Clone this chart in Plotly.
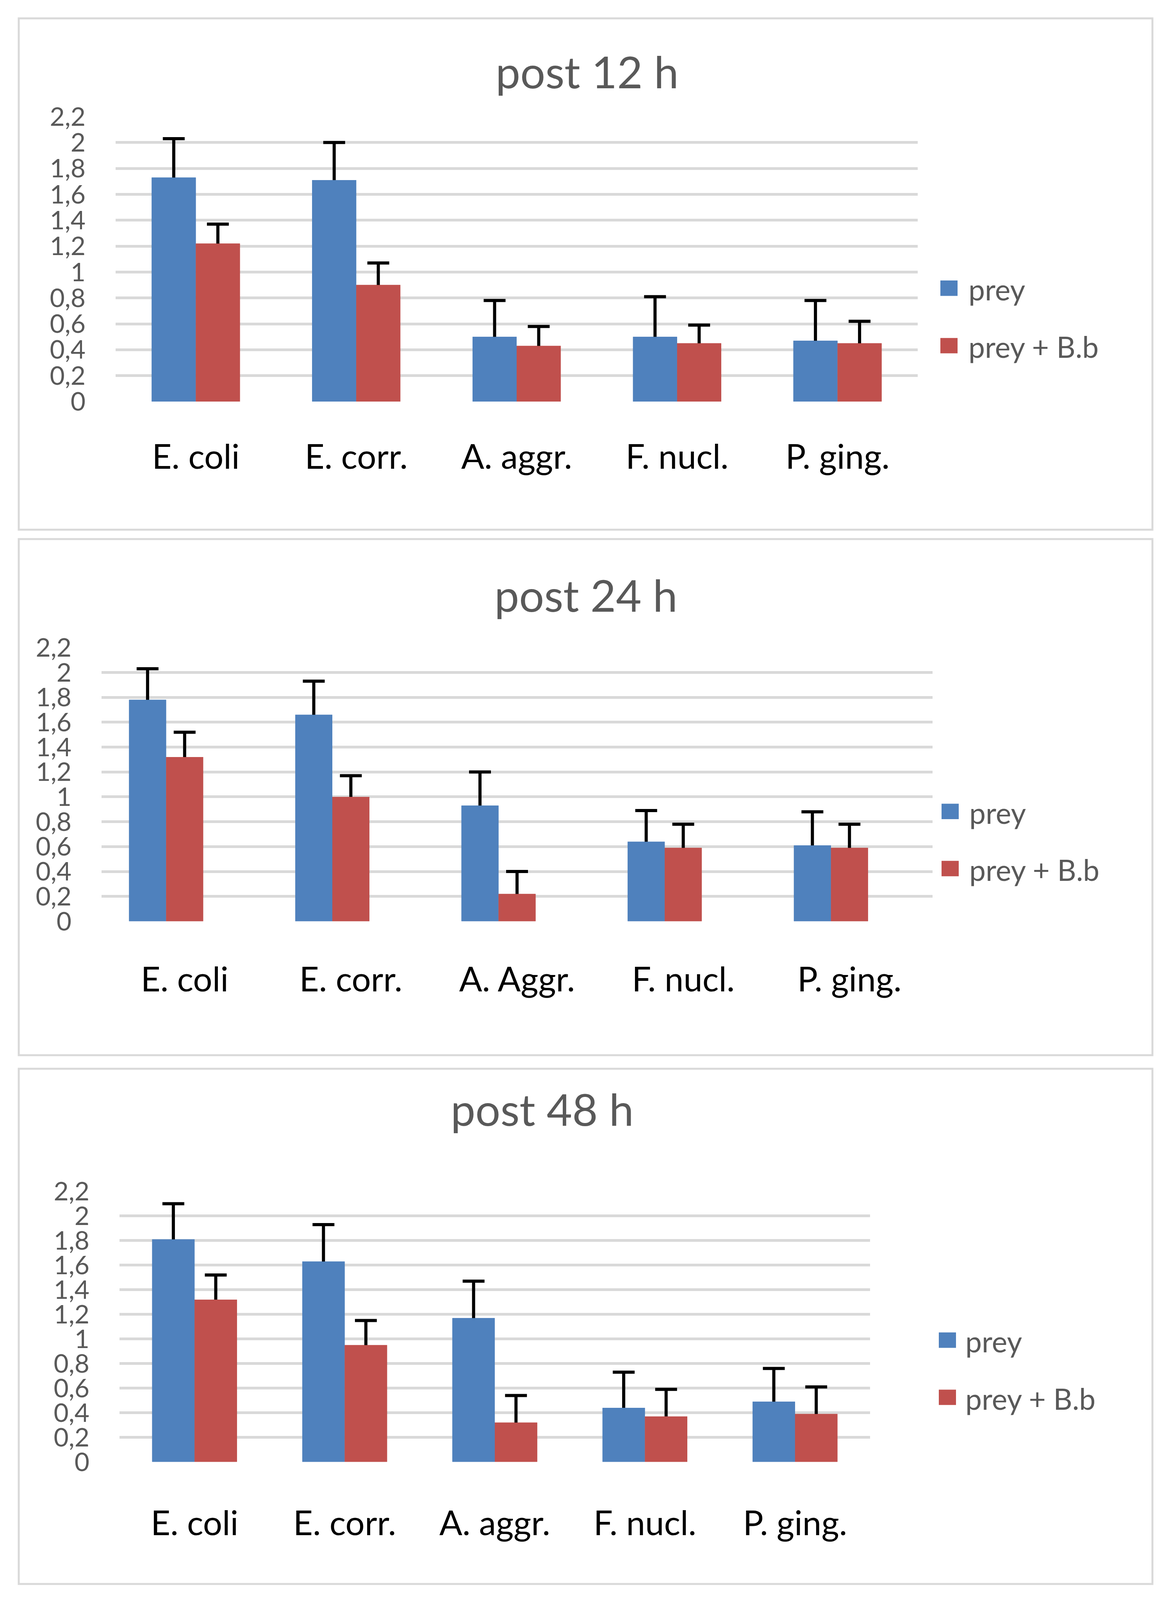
import plotly.graph_objects as go

# ---- data ----
categories_12 = ["E. coli", "E. corr.", "A. aggr.", "F. nucl.", "P. ging."]
categories_24 = ["E. coli", "E. corr.", "A. Aggr.", "F. nucl.", "P. ging."]
categories_48 = ["E. coli", "E. corr.", "A. aggr.", "F. nucl.", "P. ging."]

prey_12 = [1.73, 1.71, 0.50, 0.50, 0.47]
prey_12_err = [0.30, 0.29, 0.28, 0.31, 0.31]
preybb_12 = [1.22, 0.90, 0.43, 0.45, 0.45]
preybb_12_err = [0.15, 0.17, 0.15, 0.14, 0.17]

prey_24 = [1.78, 1.66, 0.93, 0.64, 0.61]
prey_24_err = [0.25, 0.27, 0.27, 0.25, 0.27]
preybb_24 = [1.32, 1.00, 0.22, 0.59, 0.59]
preybb_24_err = [0.20, 0.17, 0.18, 0.19, 0.19]

prey_48 = [1.81, 1.63, 1.17, 0.44, 0.49]
prey_48_err = [0.29, 0.30, 0.30, 0.29, 0.27]
preybb_48 = [1.32, 0.95, 0.32, 0.37, 0.39]
preybb_48_err = [0.20, 0.20, 0.22, 0.22, 0.22]

series_names = ["prey", "prey + B.b"]
titles = ["post 12 h", "post 24 h", "post 48 h"]

BLUE = "#4F81BD"
RED = "#C0504D"
GRID = "#D9D9D9"
GREY = "#595959"
FONT = "Lato, Carlito, Calibri, sans-serif"


# positions below are pixels measured on the 2996x5000 original;
# the shot of the page has a thin white band top and bottom, so y is remapped a bit
def fx(x):
    return x / 2996


def fy(y):
    return 1 - (y - 56) / 4885


panels = [
    dict(cats=categories_12, vals=[prey_12, preybb_12], errs=[prey_12_err, preybb_12_err],
         box=(48, 62, 2951, 1654), px=(296, 2350), py=(368, 1255),
         title=(1503, 226), bar_w=0.275, slots=2, x_standoff=84,
         leg_x=2408, leg_y=(902, 1081), leg_tx=2478),
    dict(cats=categories_24, vals=[prey_24, preybb_24], errs=[prey_24_err, preybb_24_err],
         box=(48, 1683, 2951, 3290), px=(260, 2388), py=(2021, 2873),
         title=(1500, 1856), bar_w=0.223, slots=3, x_standoff=92,
         leg_x=2411, leg_y=(2531, 2709), leg_tx=2480),
    dict(cats=categories_48, vals=[prey_48, preybb_48], errs=[prey_48_err, preybb_48_err],
         box=(48, 3332, 2951, 4936), px=(306, 2228), py=(3714, 4556),
         title=(1388, 3456), bar_w=0.2825, slots=2, x_standoff=100,
         leg_x=2404, leg_y=(4177, 4355), leg_tx=2470),
]

colors = [BLUE, RED]
fig = go.Figure()
shapes = []
annotations = []

for i, p in enumerate(panels):
    n = "" if i == 0 else str(i + 1)
    xa, ya = "x" + n, "y" + n
    w = p["bar_w"]
    start = -p["slots"] * w / 2
    # bars with error bars, then the same bars again on top so only the upper whisker shows
    for cover in (False, True):
        for k in range(2):
            fig.add_trace(go.Bar(
                x=p["cats"], y=p["vals"][k], name=series_names[k],
                xaxis=xa, yaxis=ya, width=w, offset=start + k * w,
                marker=dict(color=colors[k], line=dict(width=0)),
                error_y=None if cover else dict(type="data", array=p["errs"][k], symmetric=True,
                                                color="black", thickness=8, width=28),
                showlegend=False, hoverinfo="skip" if cover else None,
            ))

    fig.update_layout(**{
        "xaxis" + n: dict(domain=[fx(p["px"][0]), fx(p["px"][1])], anchor=ya,
                          range=[-0.5, 4.5], showgrid=False, zeroline=False, showline=False,
                          ticks="", ticklabelstandoff=p["x_standoff"],
                          tickfont=dict(family=FONT, size=87, color="black")),
        "yaxis" + n: dict(domain=[fy(p["py"][1]), fy(p["py"][0])], anchor=xa,
                          range=[0, 2.2], dtick=0.2, tick0=0, showgrid=True, gridcolor=GRID,
                          gridwidth=7, zeroline=False, showline=False, ticks="",
                          ticklabelstandoff=76,
                          tickfont=dict(family=FONT, size=66, color=GREY)),
    })

    x0, y0, x1, y1 = p["box"]
    shapes.append(dict(type="rect", xref="paper", yref="paper",
                       x0=fx(x0), x1=fx(x1), y0=fy(y1), y1=fy(y0),
                       line=dict(color=GRID, width=5), fillcolor="rgba(0,0,0,0)", layer="below"))

    annotations.append(dict(text=titles[i], xref="paper", yref="paper",
                            x=fx(p["title"][0]), y=fy(p["title"][1]),
                            xanchor="center", yanchor="middle", showarrow=False,
                            font=dict(family=FONT, size=113, color=GREY)))

    # legend: coloured squares and labels
    for k in range(2):
        cy = p["leg_y"][k]
        shapes.append(dict(type="rect", xref="paper", yref="paper",
                           x0=fx(p["leg_x"]), x1=fx(p["leg_x"] + 44),
                           y0=fy(cy + 24), y1=fy(cy - 24),
                           line=dict(width=0), fillcolor=colors[k]))
        annotations.append(dict(text=series_names[k], xref="paper", yref="paper",
                                x=fx(p["leg_tx"]), y=fy(cy + 3),
                                xanchor="left", yanchor="middle", showarrow=False,
                                font=dict(family=FONT, size=75, color=GREY)))

fig.update_layout(
    autosize=True,
    margin=dict(l=0, r=0, t=0, b=0),
    paper_bgcolor="white", plot_bgcolor="white",
    barmode="overlay",
    separators=", ",
    shapes=shapes,
    annotations=annotations,
    font=dict(family=FONT, color=GREY),
)

# fill the whole browser window
fig.write_html(
    "out.html",
    default_width="100vw",
    default_height="100vh",
    config={"displayModeBar": False},
    post_script="document.body.style.margin='0px';"
                "Plotly.Plots.resize(document.getElementById('{plot_id}'));",
)
